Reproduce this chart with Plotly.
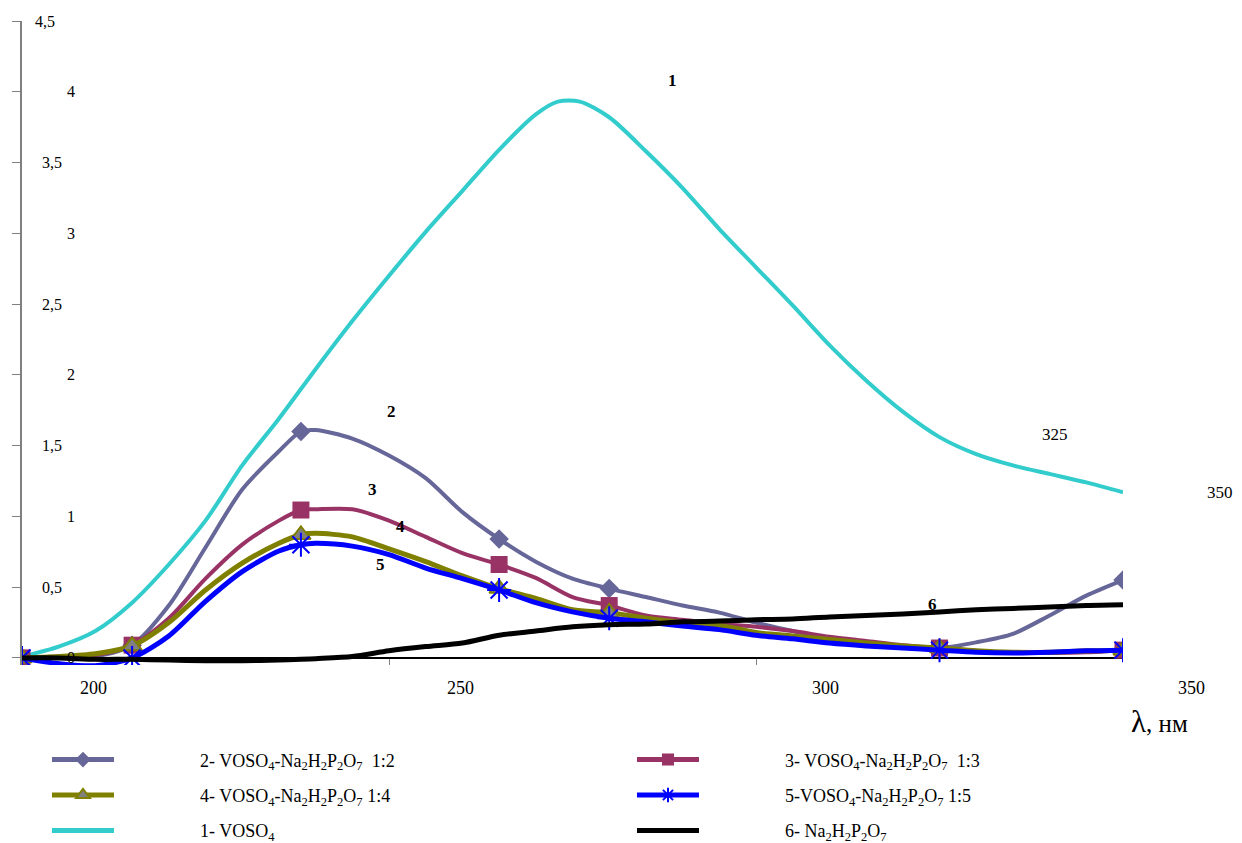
import plotly.graph_objects as go

# ---------------- data ----------------
WL = [190, 195, 200, 205, 210, 215, 220, 225, 228, 230, 235, 240, 245, 250, 255, 260,
      265, 270, 275, 280, 285, 290, 295, 300, 305, 310, 315, 320, 325, 330, 335, 340]
WL1 = [190, 195, 200, 205, 210, 215, 220, 225, 230, 235, 240, 245, 250, 255, 260, 263,
       266, 270, 275, 280, 285, 290, 295, 300, 305, 310, 315, 320, 325, 330, 335, 340]

VOSO4 = [0.01, 0.08, 0.19, 0.39, 0.66, 0.97, 1.36, 1.69, 2.04, 2.38, 2.70, 3.01, 3.30, 3.59,
         3.84, 3.93, 3.93, 3.82, 3.58, 3.32, 3.03, 2.76, 2.49, 2.21, 1.96, 1.74, 1.56, 1.44,
         1.36, 1.30, 1.24, 1.17]
R12 = [0, 0, 0.01, 0.09, 0.37, 0.78, 1.19, 1.46, 1.60, 1.61, 1.55, 1.43, 1.27, 1.03, 0.84,
       0.68, 0.56, 0.49, 0.43, 0.37, 0.32, 0.25, 0.19, 0.14, 0.11, 0.085, 0.07, 0.11, 0.17,
       0.30, 0.44, 0.55]
R13 = [0, 0.01, 0.02, 0.09, 0.28, 0.56, 0.80, 0.97, 1.045, 1.05, 1.05, 0.97, 0.855, 0.74,
       0.66, 0.565, 0.43, 0.37, 0.30, 0.27, 0.24, 0.22, 0.19, 0.15, 0.12, 0.09, 0.07, 0.05,
       0.035, 0.035, 0.04, 0.055]
R14 = [0, 0.01, 0.03, 0.085, 0.25, 0.48, 0.67, 0.81, 0.87, 0.88, 0.855, 0.77, 0.68, 0.58,
       0.49, 0.42, 0.34, 0.32, 0.28, 0.25, 0.23, 0.18, 0.155, 0.13, 0.105, 0.085, 0.07,
       0.05, 0.04, 0.04, 0.05, 0.055]
R15 = [0, -0.04, -0.055, 0.0, 0.155, 0.40, 0.61, 0.755, 0.80, 0.81, 0.79, 0.73, 0.635, 0.56,
       0.48, 0.39, 0.325, 0.28, 0.255, 0.225, 0.20, 0.16, 0.135, 0.105, 0.085, 0.07, 0.055,
       0.04, 0.035, 0.04, 0.05, 0.055]
NA2H2P2O7 = [0, 0, -0.01, -0.01, -0.015, -0.02, -0.02, -0.015, -0.01, -0.005, 0.01, 0.05,
             0.08, 0.105, 0.16, 0.19, 0.22, 0.235, 0.24, 0.255, 0.26, 0.27, 0.275, 0.29,
             0.30, 0.31, 0.325, 0.34, 0.35, 0.36, 0.37, 0.375]

MARK_WL = [190, 205, 228, 255, 270, 315, 340]

X_RANGE = [190, 340]
Y_RANGE = [-0.05, 4.5]
Y_TICKS = [0, 0.5, 1, 1.5, 2, 2.5, 3, 3.5, 4, 4.5]
Y_TICK_TEXT = ["0", "0,5", "1", "1,5", "2", "2,5", "3", "3,5", "4", "4,5"]
X_TICKS = [190, 240, 290, 340]
X_LABELS = ["200", "250", "300", "350"]
X_LABEL_POS = [199.7, 249.8, 299.5, 349.3]

CURVE_LABELS = ["1", "2", "3", "4", "5", "6"]
CURVE_LABEL_X = [278.6, 240.4, 237.8, 241.5, 238.8, 314.1]
CURVE_LABEL_Y = [4.08, 1.74, 1.19, 0.93, 0.66, 0.38]

EXTRA_LABELS = ["325", "350"]
EXTRA_X = [330.7, 353.2]
EXTRA_Y = [1.575, 1.17]

PAD = "\u00a0" * 18
SUB = "VOSO<sub>4</sub>-Na<sub>2</sub>H<sub>2</sub>P<sub>2</sub>O<sub>7</sub>"
NAMES = {
    "1": PAD + "1- VOSO<sub>4</sub>",
    "2": PAD + "2- " + SUB + "\u00a0 1:2",
    "3": PAD + "3- " + SUB + "\u00a0 1:3",
    "4": PAD + "4- " + SUB + " 1:4",
    "5": PAD + "5-" + SUB + " 1:5",
    "6": PAD + "6- Na<sub>2</sub>H<sub>2</sub>P<sub>2</sub>O<sub>7</sub>",
}

FONT = "Liberation Serif, Times New Roman, serif"


def xpaper(v):
    return (v - X_RANGE[0]) / (X_RANGE[1] - X_RANGE[0])


def ypaper(v):
    return (v - Y_RANGE[0]) / (Y_RANGE[1] - Y_RANGE[0])


def msize(wl, s):
    return [s if w in MARK_WL else 0 for w in wl]


def mline(wl, w):
    return [w if x in MARK_WL else 0 for x in wl]


fig = go.Figure()

fig.add_trace(go.Scatter(
    x=WL1, y=VOSO4, mode="lines", name=NAMES["1"],
    line=dict(color="#33CCCC", width=4, shape="spline", smoothing=0.8),
    legend="legend", legendgroup="g1", legendrank=3))

fig.add_trace(go.Scatter(
    x=WL, y=R12, mode="lines+markers", name=NAMES["2"],
    line=dict(color="#666699", width=4, shape="spline", smoothing=0.8),
    marker=dict(symbol="diamond", color="#666699", size=msize(WL, 15), opacity=1,
                line=dict(width=0)),
    legend="legend", legendgroup="g2", legendrank=1))

fig.add_trace(go.Scatter(
    x=WL, y=R13, mode="lines+markers", name=NAMES["3"],
    line=dict(color="#993366", width=4, shape="spline", smoothing=0.8),
    marker=dict(symbol="square", color="#993366", size=msize(WL, 17), opacity=1,
                line=dict(width=0)),
    legend="legend2", legendgroup="g3", legendrank=1))

fig.add_trace(go.Scatter(
    x=WL, y=R14, mode="lines+markers", name=NAMES["4"],
    line=dict(color="#808000", width=5, shape="spline", smoothing=0.8),
    marker=dict(symbol="triangle-up", color="#808080", size=msize(WL, 17), opacity=1,
                line=dict(color="#808000", width=mline(WL, 2))),
    legend="legend", legendgroup="g4", legendrank=2))

fig.add_trace(go.Scatter(
    x=WL, y=R15, mode="lines+markers", name=NAMES["5"],
    line=dict(color="#0000FF", width=5, shape="spline", smoothing=0.8),
    marker=dict(symbol="asterisk-open", color="#0000FF", size=msize(WL, 20), opacity=1,
                line=dict(color="#0000FF", width=mline(WL, 2))),
    legend="legend2", legendgroup="g5", legendrank=2))

fig.add_trace(go.Scatter(
    x=WL, y=NA2H2P2O7, mode="lines", name=NAMES["6"],
    line=dict(color="black", width=5, shape="spline", smoothing=0.8),
    legend="legend2", legendgroup="g6", legendrank=3))

annotations = []
for t, x, y in zip(CURVE_LABELS, CURVE_LABEL_X, CURVE_LABEL_Y):
    annotations.append(dict(x=xpaper(x), y=ypaper(y), xref="paper", yref="paper",
                            text="<b>" + t + "</b>", showarrow=False,
                            xanchor="center", yanchor="middle",
                            font=dict(family=FONT, size=17, color="black")))
for t, x, y in zip(EXTRA_LABELS, EXTRA_X, EXTRA_Y):
    annotations.append(dict(x=xpaper(x), y=ypaper(y), xref="paper", yref="paper",
                            text=t, showarrow=False, xanchor="center", yanchor="middle",
                            font=dict(family=FONT, size=17, color="black")))
# x-axis labels (placed as in the original, offset from the tick marks)
for t, x in zip(X_LABELS, X_LABEL_POS):
    annotations.append(dict(x=xpaper(x), y=-0.0357, xref="paper", yref="paper", text=t,
                            showarrow=False, xanchor="center", yanchor="middle",
                            font=dict(family=FONT, size=18, color="black")))
# y-axis labels drawn to the right of the axis line
for v, t in zip(Y_TICKS, Y_TICK_TEXT):
    if v == 4.5:
        xp = 0.010
    elif float(v).is_integer():
        xp = 0.039
    else:
        xp = 0.0163
    annotations.append(dict(x=xp, y=ypaper(v), xref="paper", yref="paper", text=t,
                            showarrow=False, xanchor="left", yanchor="middle",
                            font=dict(family=FONT, size=16, color="black")))
annotations.append(dict(x=1.0336, y=-0.0885, xref="paper", yref="paper",
                        xanchor="center", yanchor="middle",
                        text='<span style="font-size:31px">λ</span>, нм', showarrow=False,
                        font=dict(family=FONT, size=25, color="black")))

legend_common = dict(
    xref="container", yref="container", xanchor="left", yanchor="top",
    orientation="v", itemsizing="constant", itemwidth=62, tracegroupgap=9,
    traceorder="grouped", bgcolor="rgba(0,0,0,0)",
    font=dict(family=FONT, size=18, color="black"))

fig.update_layout(
    width=1242, height=843,
    margin=dict(l=14, r=127, t=13, b=186, autoexpand=False),
    paper_bgcolor="white", plot_bgcolor="white",
    font=dict(family=FONT, color="black"),
    xaxis=dict(range=X_RANGE, tickvals=X_TICKS, ticks="inside", ticklen=6,
               tickcolor="#808080", showticklabels=False, showline=False,
               showgrid=False, zeroline=False),
    yaxis=dict(range=Y_RANGE, tickvals=Y_TICKS, ticks="outside",
               ticklen=8, tickcolor="#808080", showline=True, linecolor="#808080",
               linewidth=1.5, zeroline=True, zerolinecolor="black", zerolinewidth=1.5,
               showgrid=False, showticklabels=False),
    legend=dict(x=0.0314, y=0.13, **legend_common),
    legend2=dict(x=0.5024, y=0.13, **legend_common),
    annotations=annotations,
    showlegend=True,
)

fig.write_html("out.html")
